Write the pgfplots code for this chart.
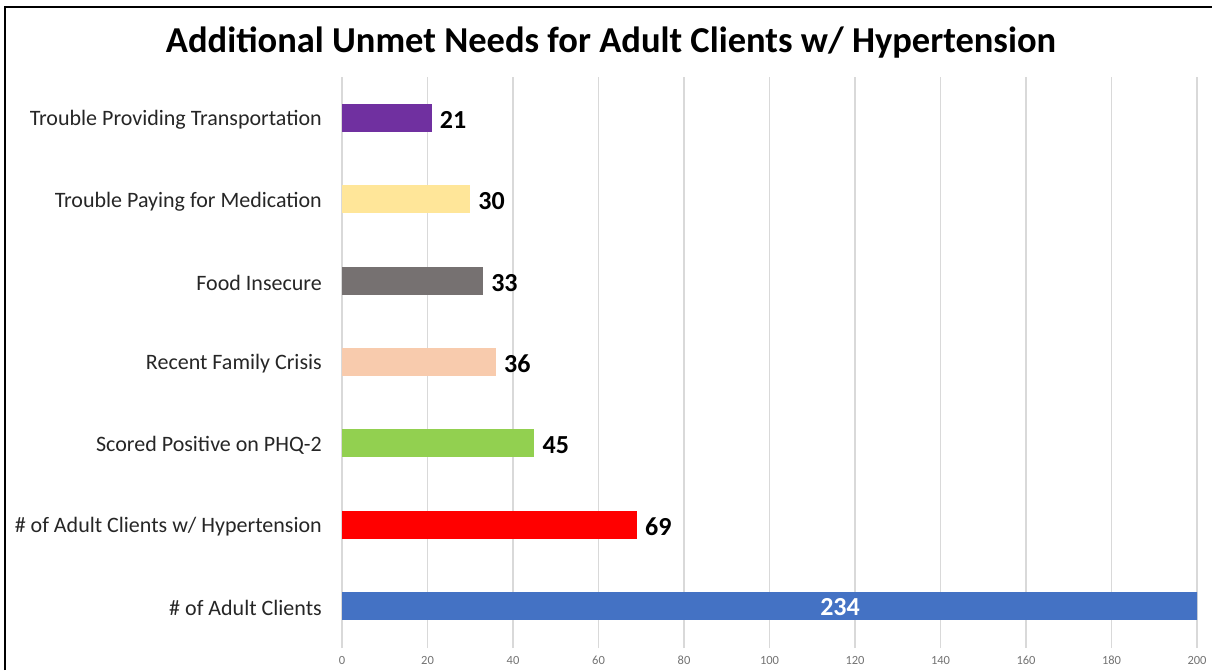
\documentclass[border=0pt]{standalone}
\usepackage{fontspec}
\setmainfont{Carlito}
\usepackage{pgfplots}
\pgfplotsset{compat=1.18}
\definecolor{cpurple}{HTML}{7030A0}
\definecolor{cyellow}{HTML}{FFE699}
\definecolor{cgray}{HTML}{767171}
\definecolor{cpeach}{HTML}{F8CBAD}
\definecolor{cgreen}{HTML}{92D050}
\definecolor{cred}{HTML}{FF0000}
\definecolor{cblue}{HTML}{4472C4}
\definecolor{gridc}{HTML}{D9D9D9}
\begin{document}
\begin{tikzpicture}[x=1pt,y=1pt]
\useasboundingbox (0,0) rectangle (1212,670);
\draw[line width=2.5pt] (5,0) -- (5,663) -- (1212,663);
\node[font=\fontsize{36.5}{40}\selectfont\bfseries] at (611,627) {Additional Unmet Needs for Adult Clients w/ Hypertension};
\begin{axis}[at={(342pt,22pt)}, anchor=south west, scale only axis,
  width=855pt, height=571pt,
  xbar, bar width=28pt, bar shift=0pt,
  xmin=0, xmax=200, ymin=-0.516, ymax=6.504,
  axis line style={draw=none},
  xtick={0,20,...,200}, xmajorgrids, grid style={color=gridc, line width=1.5pt},
  ytick={0,...,6},
  yticklabels={\# of Adult Clients, \# of Adult Clients w/ Hypertension, Scored Positive on PHQ-2, Recent Family Crisis, Food Insecure, Trouble Paying for Medication, Trouble Providing Transportation},
  major tick length=0pt,
  yticklabel style={font=\fontsize{22}{26}\selectfont, text=black!85, inner sep=0pt, xshift=-20pt, yshift=-2pt},
  xticklabel style={font=\fontsize{12.5}{14}\selectfont, text=black!55, anchor=base, inner sep=0pt, yshift=-16pt},
  /pgf/number format/assume math mode=true,
  nodes near coords style={font=\fontsize{26}{30}\selectfont\bfseries, text=black, anchor=west, inner sep=0pt, xshift=8pt, yshift=-2pt},
  every axis plot/.append style={draw=none},
]
\addplot[fill=cblue] coordinates {(234,0)};
\addplot[fill=cred, nodes near coords] coordinates {(69,1)};
\addplot[fill=cgreen, nodes near coords] coordinates {(45,2)};
\addplot[fill=cpeach, nodes near coords] coordinates {(36,3)};
\addplot[fill=cgray, nodes near coords] coordinates {(33,4)};
\addplot[fill=cyellow, nodes near coords] coordinates {(30,5)};
\addplot[fill=cpurple, nodes near coords] coordinates {(21,6)};
\node[font=\fontsize{26}{30}\selectfont\bfseries, text=white, yshift=-1pt] at (axis cs:116.5,0) {234};
\end{axis}
\end{tikzpicture}
\end{document}
